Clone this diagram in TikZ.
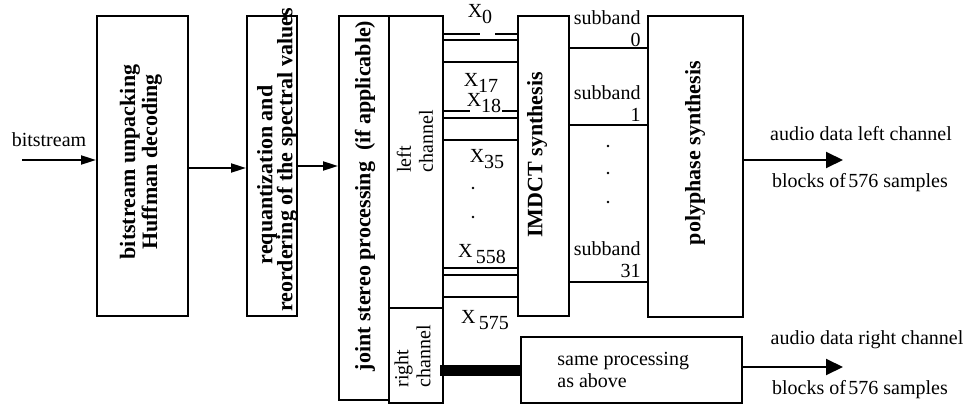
\documentclass[tikz,border=0pt]{standalone}
\usepackage{fontspec}
\setmainfont{Liberation Serif}
\usetikzlibrary{arrows.meta}
\newcommand{\xsub}[2]{X#1\raisebox{-0.6ex}{#2}}
\begin{document}
\begin{tikzpicture}[x=0.5pt,y=-0.5pt,
  every node/.style={font=\fontsize{10}{11}\selectfont, inner sep=0pt},
  blk/.style={draw, line width=1pt, rectangle},
  btext/.style={rotate=90, align=center, font=\fontsize{11}{11}\selectfont\bfseries},
  conn/.style={line width=0.8pt},
  inarrow/.style={line width=1pt, -{Triangle[length=7.5pt,width=4.5pt]}},
  outarrow/.style={line width=1pt, -{Triangle[length=8.5pt,width=8pt]}},
  dotmark/.style={fill, circle, minimum size=1.4pt}
]
\useasboundingbox (0,0) rectangle (971,407);

% boxes
\node[blk, minimum width=45.5pt, minimum height=150pt] (b1) at (142.5,166) {};
\node[blk, minimum width=25pt, minimum height=150pt] (b2) at (272,166) {};
\node[blk, minimum width=25pt, minimum height=192pt] (js) at (364,208) {};
\node[blk, minimum width=27pt, minimum height=146pt] (lc) at (416,162) {};
\node[blk, minimum width=27pt, minimum height=47.5pt] (rc) at (416,355.5) {};
\node[blk, minimum width=25.5pt, minimum height=150pt] (im) at (543.5,166) {};
\node[blk, minimum width=47.5pt, minimum height=150.5pt] (pp) at (695.5,166.5) {};
\node[blk, minimum width=110.5pt, minimum height=33pt] (sp) at (631.5,370) {};

% box texts
\node[btext] (t1) at (141,162) {bitstream unpacking\\Huffman decoding};
\node[btext] (t2a) at (267,175) {requantization and};
\node[btext] (t2b) at (287,160) {reordering of the spectral values};
\node[btext] (t3) at (365,196) {joint stereo processing\ \ (if applicable)};
\node[rotate=90, align=left, anchor=west] (t4) at (415,173) {left\\channel};
\node[rotate=90, align=left, anchor=west] (t5) at (412.5,388) {right\\channel};
\node[btext] (t6) at (537,155) {IMDCT synthesis};
\node[btext] (t7) at (695,153) {polyphase synthesis};
\node[align=left, anchor=west] (t8) at (557,370) {same processing\\as above};

% input / output labels
\node (lin) at (49,140) {bitstream};
\node (lo1) at (861,134) {audio data left channel};
\node (lo2) at (860,183) {blocks of\hspace{0.12em}576 samples};
\node (ro1) at (867,340) {audio data right channel};
\node (ro2) at (860,390) {blocks of\hspace{0.12em}576 samples};

% X labels
\node (x0) at (480,14) {\xsub{}{0}};
\node (x17) at (481,83) {\xsub{}{17}};
\node (x18) at (484,103) {\xsub{}{18}};
\node (x35) at (487,159) {\xsub{}{35}};
\node (x558) at (482,254) {\xsub{\,}{558}};
\node (x575) at (485,320) {\xsub{\,}{575}};
\node[dotmark] (d1) at (473,188) {};
\node[dotmark] (d2) at (473,217) {};

% subband labels
\node[align=right, anchor=east] (s0) at (641,28.5) {subband\\0};
\node[align=right, anchor=east] (s1) at (641,103.5) {subband\\1};
\node[align=right, anchor=east] (s31) at (641,260) {subband\\31};
\node[dotmark] (d3) at (608,146) {};
\node[dotmark] (d4) at (608,173) {};
\node[dotmark] (d5) at (608,202) {};

% coefficient lines
\coordinate (g0a) at (480,34);
\coordinate (g0b) at (495,34);
\coordinate (g1a) at (470,111);
\coordinate (g1b) at (502,111);
\draw[conn] (lc.east |- g0a) -- (g0a);
\draw[conn] (g0b) -- (im.west |- g0b);
\draw[conn] (lc.east |- 0,40) -- ([xshift=1pt]im.west |- 0,40);
\draw[conn] (lc.east |- 0,62) -- (im.west |- 0,62);
\draw[conn] (lc.east |- g1a) -- (g1a);
\draw[conn] (g1b) -- (im.west |- g1b);
\draw[conn] (lc.east |- 0,118) -- (im.west |- 0,118);
\draw[conn] (lc.east |- 0,140) -- (im.west |- 0,140);
\draw[conn] (lc.east |- 0,268) -- (im.west |- 0,268);
\draw[conn] (lc.east |- 0,275) -- (im.west |- 0,275);
\draw[conn] (lc.east |- 0,297) -- (im.west |- 0,297);

% subband lines
\draw[conn] (im.east |- 0,48) -- (pp.west |- 0,48);
\draw[conn] (im.east |- 0,125) -- (pp.west |- 0,125);
\draw[conn] (im.east |- 0,282) -- (pp.west |- 0,282);

% right channel thick link
\draw[line width=5.5pt] ([xshift=-2pt]rc.east |- 0,370) -- (sp.west |- 0,370);

% arrows
\coordinate (inp) at (22,160);
\draw[inarrow] (inp) -- (b1.west |- inp);
\draw[inarrow] (b1.east |- 0,168) -- (b2.west |- 0,168);
\draw[inarrow] (b2.east |- 0,166) -- (js.west |- 0,166);
\coordinate (outl) at (843,160);
\coordinate (outr) at (843,367);
\draw[outarrow] (pp.east |- outl) -- (outl);
\draw[outarrow] (sp.east |- outr) -- (outr);
\end{tikzpicture}
\end{document}
